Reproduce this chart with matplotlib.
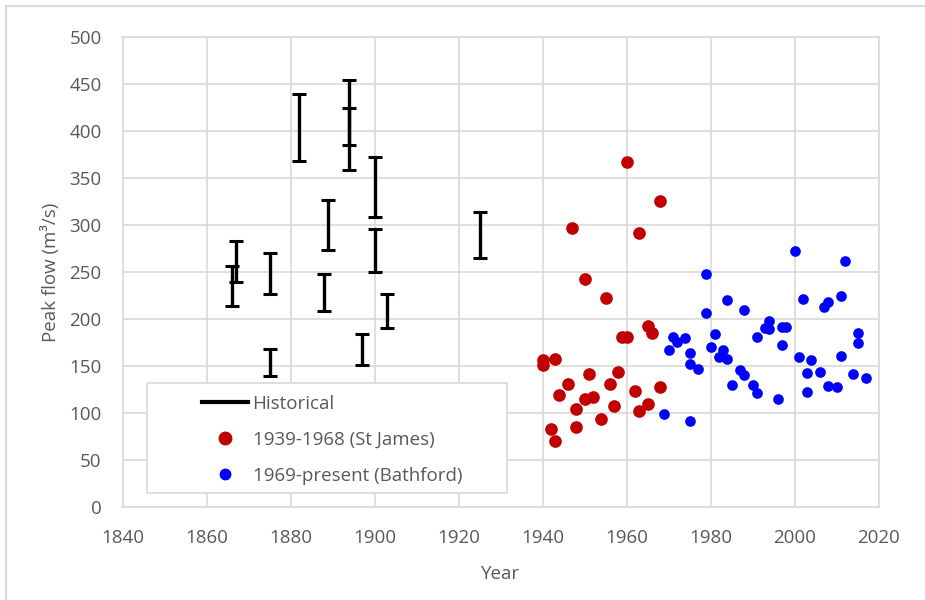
import numpy as np
import matplotlib.pyplot as plt
from matplotlib.lines import Line2D
from matplotlib.patches import Rectangle

# historical floods: year with lower / upper estimate of peak flow
hist_year = [1866, 1867, 1875, 1875, 1882, 1888, 1889, 1894, 1894, 1897, 1900, 1900, 1903, 1925]
hist_low = [214, 239, 227, 139, 368, 209, 273, 385, 359, 151, 308, 250, 190, 265]
hist_high = [256, 283, 270, 168, 439, 248, 327, 454, 425, 184, 372, 296, 227, 314]

# gauged peaks at St James 1939-1968
stj_year = [1940, 1940, 1942, 1943, 1943, 1944, 1946, 1947, 1948, 1948, 1950, 1950,
            1951, 1952, 1954, 1955, 1956, 1957, 1958, 1959, 1960, 1960, 1962, 1963,
            1963, 1965, 1965, 1966, 1968, 1968]
stj_flow = [156, 151, 83, 157, 70, 119, 131, 297, 104, 85, 243, 115,
            141, 117, 94, 222, 131, 107, 144, 181, 181, 367, 123, 291,
            102, 193, 110, 185, 326, 128]

# gauged peaks at Bathford 1969-present
bat_year = [1969, 1970, 1971, 1972, 1974, 1975, 1975, 1975, 1977, 1979, 1979, 1980,
            1981, 1982, 1983, 1984, 1984, 1985, 1987, 1988, 1988, 1990, 1991, 1991,
            1993, 1994, 1994, 1996, 1997, 1997, 1998, 2000, 2001, 2002, 2003, 2003,
            2004, 2006, 2007, 2008, 2008, 2010, 2011, 2011, 2012, 2014, 2015, 2015,
            2017]
bat_flow = [99, 167, 181, 176, 180, 164, 152, 91, 147, 248, 206, 170,
            184, 160, 167, 157, 220, 130, 146, 140, 210, 130, 121, 181,
            190, 189, 198, 115, 192, 172, 191, 272, 160, 221, 143, 122,
            156, 144, 213, 218, 129, 128, 161, 225, 262, 141, 185, 175,
            137]

plt.rcParams['font.family'] = ['Open Sans', 'DejaVu Sans']
grey_txt = '#595959'
grid_c = '#d9d9d9'

fig = plt.figure(figsize=(9.25, 6), dpi=100)
ax = fig.add_axes([122.5 / 925, 93 / 600, 756.2 / 925, 470 / 600])

low = np.array(hist_low)
high = np.array(hist_high)
ax.errorbar(hist_year, low, yerr=[np.zeros_like(low), high - low], fmt='none',
            ecolor='black', elinewidth=2.4, capsize=4.7, capthick=2.2, zorder=3)
ax.scatter(stj_year, stj_flow, s=83, color='#c00000', linewidths=0, zorder=3)
ax.scatter(bat_year, bat_flow, s=59, color='#0000ff', linewidths=0, zorder=3)

ax.set_xlim(1840, 2020)
ax.set_ylim(0, 500)
ax.set_xticks(np.arange(1840, 2021, 20))
ax.set_yticks(np.arange(0, 501, 50))
ax.grid(True, color=grid_c, linewidth=1.2)
ax.set_axisbelow(True)
for sp in ax.spines.values():
    sp.set_color(grid_c)
    sp.set_linewidth(1.2)
ax.tick_params(length=0, labelsize=13.5, labelcolor=grey_txt)
ax.tick_params(axis='y', pad=15)
ax.tick_params(axis='x', pad=16)
ax.set_xlabel('Year', fontsize=13.5, color=grey_txt, labelpad=13)
ax.set_ylabel('Peak flow (m³/s)', fontsize=13.5, color=grey_txt, labelpad=6.5)

# legend box drawn separately so it can be wider than its content
fig.add_artist(Rectangle((147 / 925, 1 - 493 / 600), 360 / 925, 110 / 600,
                         transform=fig.transFigure, facecolor='white',
                         edgecolor=grid_c, linewidth=1.2, zorder=3))
handles = [Line2D([], [], color='black', linewidth=3),
           Line2D([], [], marker='o', linestyle='none', color='#c00000', markersize=9),
           Line2D([], [], marker='o', linestyle='none', color='#0000ff', markersize=7.5)]
labels = ['Historical', '1939-1968 (St James)', '1969-present (Bathford)']
leg = fig.legend(handles, labels, loc='upper left',
                 bbox_to_anchor=(202 / 925, 1 - 395 / 600), frameon=False,
                 borderpad=0, borderaxespad=0, handlelength=2.45, handletextpad=0.25,
                 labelspacing=0.96, fontsize=13.5, labelcolor=grey_txt)
leg.set_zorder(5)

# outer chart border (left and top)
fig.add_artist(Line2D([6 / 925, 6 / 925], [0, 1 - 6 / 600], color=grid_c, linewidth=1.5))
fig.add_artist(Line2D([6 / 925, 1], [1 - 6 / 600, 1 - 6 / 600], color=grid_c, linewidth=1.5))

fig.savefig('out.png', dpi=100)
